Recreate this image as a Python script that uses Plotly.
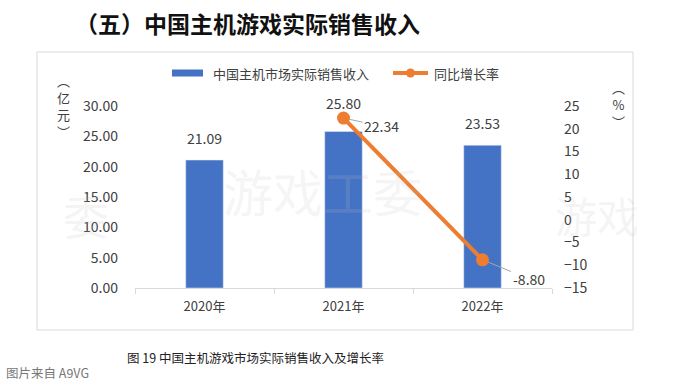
import plotly.graph_objects as go

categories = ["2020年", "2021年", "2022年"]
revenue = [21.09, 25.80, 23.53]
growth = [None, 22.34, -8.80]
revenue_labels = ["21.09", "25.80", "23.53"]
growth_labels = [None, "22.34", "-8.80"]
left_ticks = [0, 5, 10, 15, 20, 25, 30]
right_ticks = [-15, -10, -5, 0, 5, 10, 15, 20, 25]

W, H = 690, 382
L, R, T, B = 135, 552, 106, 288  # plot area in pixels


def px(x):
    return (x - L) / (R - L)


def py(y):
    return (B - y) / (B - T)


FONT = "Noto Sans CJK SC"
BLUE = "#4472C4"
ORANGE = "#ED7D31"
TXT = "#404040"

fig = go.Figure()
fig.add_trace(go.Bar(x=categories, y=revenue, marker_color=BLUE, width=0.27,
                     name="中国主机市场实际销售收入", showlegend=False))
fig.add_trace(go.Scatter(x=categories, y=growth, yaxis="y2", mode="lines+markers",
                         line=dict(color=ORANGE, width=4),
                         marker=dict(color=ORANGE, size=13),
                         name="同比增长率", showlegend=False))

ann = []
# watermarks
WMC = "rgba(190,190,190,0.16)"
ann.append(dict(text="游戏工委", x=px(323), y=py(190), xref="paper", yref="paper",
                showarrow=False, font=dict(color=WMC, size=50, family=FONT),
                xanchor="center", yanchor="middle"))
ann.append(dict(text="委", x=px(86), y=py(214), xref="paper", yref="paper",
                showarrow=False, font=dict(color=WMC, size=46, family=FONT),
                xanchor="center", yanchor="middle"))
ann.append(dict(text="游戏", x=px(553), y=py(214), xref="paper", yref="paper",
                showarrow=False, font=dict(color=WMC, size=42, family=FONT),
                xanchor="left", yanchor="middle"))

# bar value labels
shifts = [10, 16, 10]
for c, v, lab, s in zip(categories, revenue, revenue_labels, shifts):
    ann.append(dict(text=lab, x=c, y=v, xref="x", yref="y", showarrow=False,
                    yanchor="bottom", yshift=s, font=dict(size=14, color=TXT, family=FONT)))
# growth labels with leader lines
offsets = [None, (38, 8), (46, 19)]
for c, v, lab, o in zip(categories, growth, growth_labels, offsets):
    if v is None:
        continue
    ann.append(dict(text=lab, x=c, y=v, xref="x", yref="y2", showarrow=True,
                    ax=o[0], ay=o[1], arrowhead=0, arrowwidth=1, arrowcolor="#a6a6a6",
                    standoff=6, font=dict(size=14, color=TXT, family=FONT)))

# titles / captions
ann.append(dict(text="<b>（五）中国主机游戏实际销售收入</b>", x=px(73), y=py(23), xref="paper", yref="paper",
                showarrow=False, xanchor="left", yanchor="middle",
                font=dict(size=23, color="#111111", family=FONT)))
ann.append(dict(text="图 19 中国主机游戏市场实际销售收入及增长率", x=px(125), y=py(357), xref="paper",
                yref="paper", showarrow=False, xanchor="left", yanchor="middle",
                font=dict(size=12.5, color="#222222", family=FONT)))
ann.append(dict(text="图片来自 A9VG", x=px(4), y=py(372), xref="paper", yref="paper",
                showarrow=False, xanchor="left", yanchor="middle",
                font=dict(size=12.5, color="#777777", family=FONT)))
# axis unit titles (vertical)
ann.append(dict(text="︵<br>亿<br>元<br>︶", x=px(63), y=py(106), xref="paper", yref="paper",
                showarrow=False, xanchor="center", yanchor="middle",
                font=dict(size=13, color=TXT, family=FONT)))
ann.append(dict(text="︵<br>%<br>︶", x=px(618), y=py(104), xref="paper", yref="paper",
                showarrow=False, xanchor="center", yanchor="middle",
                font=dict(size=13, color=TXT, family=FONT)))
# custom legend texts
ann.append(dict(text="中国主机市场实际销售收入", x=px(211), y=py(73), xref="paper", yref="paper",
                showarrow=False, xanchor="left", yanchor="middle",
                font=dict(size=13, color=TXT, family=FONT)))
ann.append(dict(text="同比增长率", x=px(432), y=py(73), xref="paper", yref="paper",
                showarrow=False, xanchor="left", yanchor="middle",
                font=dict(size=13, color=TXT, family=FONT)))

shapes = [
    dict(type="rect", xref="paper", yref="paper", x0=px(37), x1=px(633), y0=py(52), y1=py(330),
         line=dict(color="#d9d9d9", width=1), fillcolor="rgba(0,0,0,0)", layer="below"),
    dict(type="rect", xref="paper", yref="paper", x0=px(172), x1=px(203), y0=py(69.5), y1=py(76.5),
         line=dict(width=0), fillcolor=BLUE),
    dict(type="line", xref="paper", yref="paper", x0=px(393), x1=px(428), y0=py(73), y1=py(73),
         line=dict(color=ORANGE, width=4)),
    dict(type="circle", xref="paper", yref="paper", x0=px(406), x1=px(415), y0=py(68.5), y1=py(77.5),
         line=dict(width=0), fillcolor=ORANGE),
]

fig.update_layout(
    width=W, height=H,
    margin=dict(l=L, r=W - R, t=T, b=H - B, pad=0),
    paper_bgcolor="white", plot_bgcolor="white",
    font=dict(family=FONT, color=TXT, size=13),
    showlegend=False,
    annotations=ann, shapes=shapes,
    xaxis=dict(type="category", range=[-0.5, 2.5], showgrid=False, showline=True,
               linecolor="#d9d9d9", linewidth=1, ticks="outside", tickson="boundaries",
               ticklen=5, tickcolor="#d9d9d9", tickfont=dict(size=13, color=TXT),
               ticklabelstandoff=6),
    yaxis=dict(range=[0, 30], tickvals=left_ticks, tickformat=".2f", showgrid=False,
               zeroline=False, showline=False, tickfont=dict(size=14, color=TXT),
               ticklabelstandoff=16),
    yaxis2=dict(range=[-15, 25], tickvals=right_ticks, overlaying="y", side="right",
                showgrid=False, zeroline=False, showline=False,
                tickfont=dict(size=14, color=TXT), ticklabelstandoff=11),
)

fig.write_html("out.html", config={"displayModeBar": False},
               post_script="document.body.style.margin='0';document.body.style.overflow='hidden';")
